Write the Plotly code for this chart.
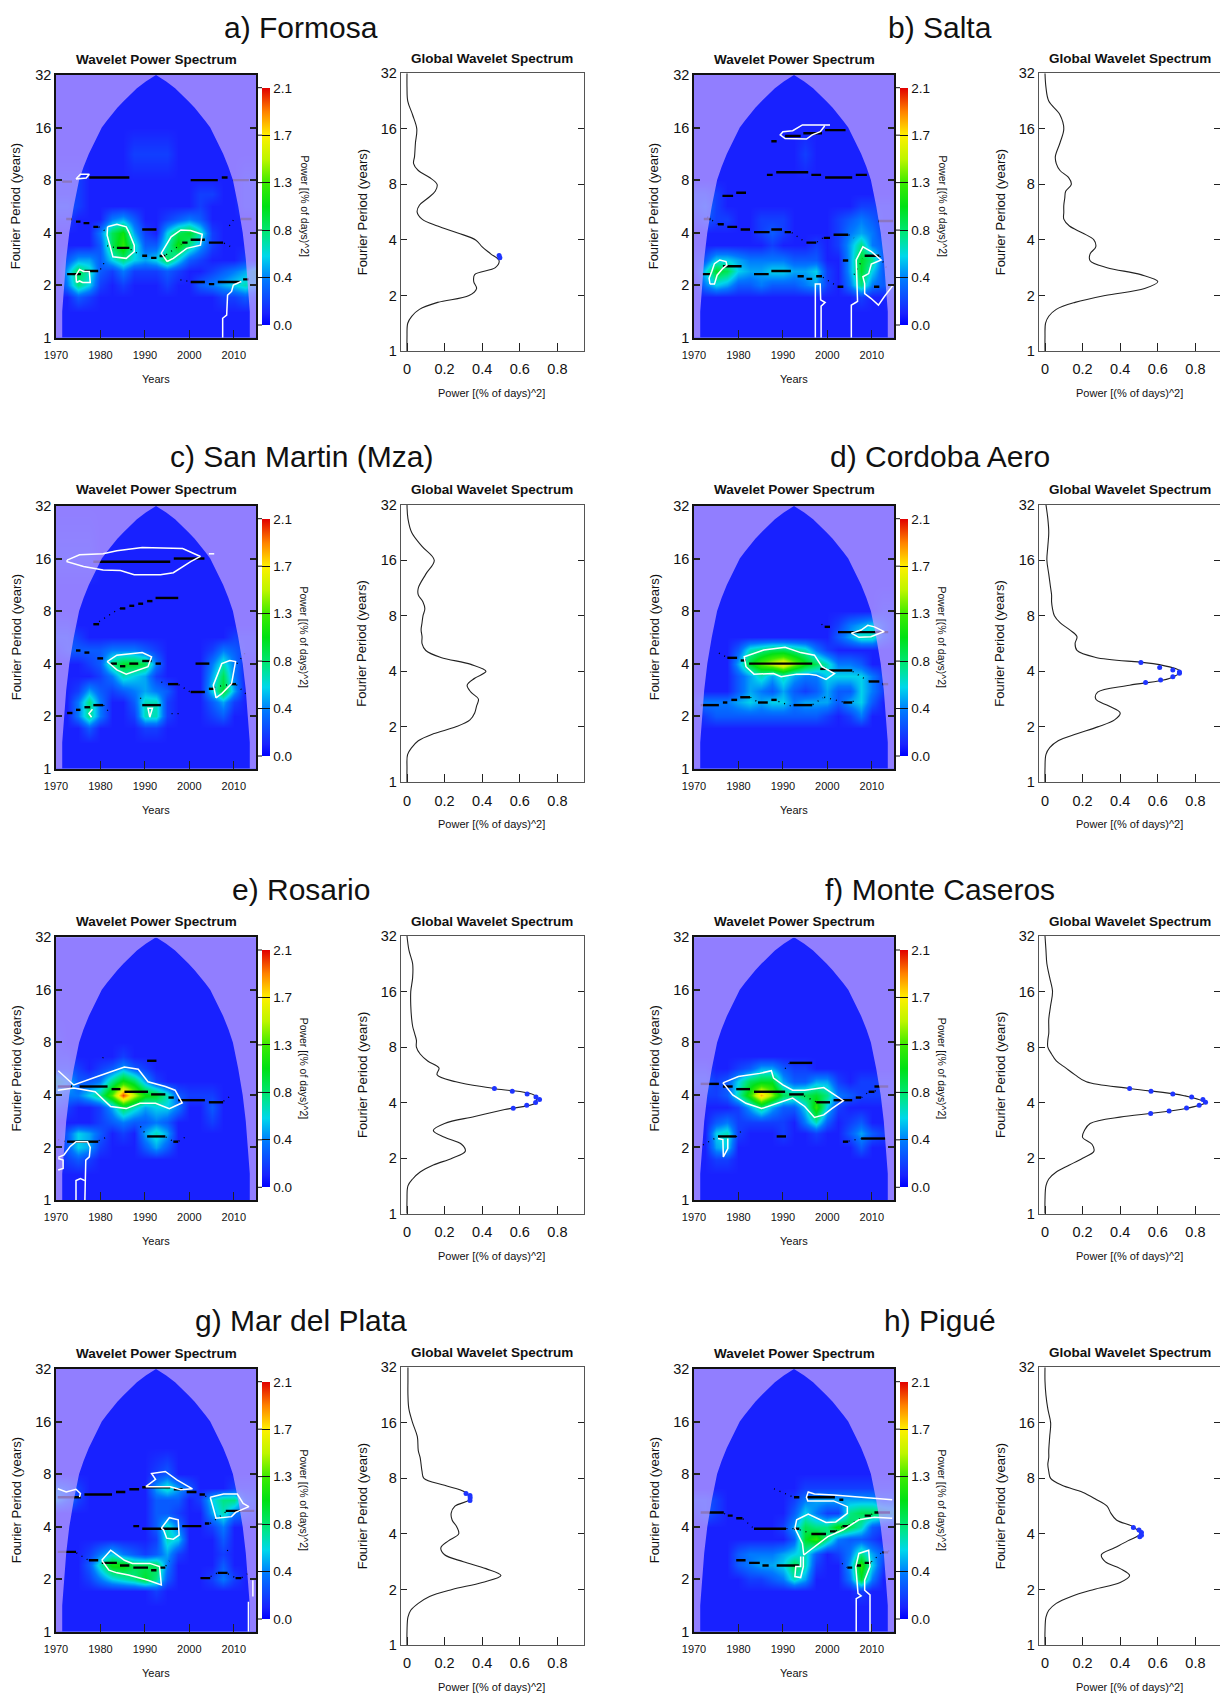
import numpy as np
import plotly.graph_objects as go

W, H = 1220, 1694
FONT = "Liberation Sans, Arial, sans-serif"

YEARS = [1970, 1972.5, 1975, 1977.5, 1980, 1982.5, 1985, 1987.5, 1990, 1992.5, 1995, 1997.5,
         2000, 2002.5, 2005, 2007.5, 2010, 2012.5, 2015]
PERIODS = [32, 16, 11.3, 8, 6.7, 5.7, 4.8, 4, 3.4, 2.8, 2.4, 2, 1.7, 1.4, 1]

# wavelet power, in tenths of (% of days)^2; rows run from period 32 down to 1
POWER_A = [
 [1,1,1,1,1,1,1,1,1,1,1,1,1,1,1,1,1,1,1],
 [1,1,1,1,1,1,1,1,1,1,1,1,1,1,1,1,1,1,1],
 [1,1,1,1,1,1,1,2,2,2,2,1,1,1,1,1,1,1,1],
 [2,2,2,1,1,1,1,1,1,1,1,1,1,1,1,1,1,2,2],
 [2,2,2,1,1,1,1,1,1,1,1,1,1,2,2,1,1,2,2],
 [3,3,2,1,1,1,1,1,1,1,1,1,1,2,1,1,1,2,2],
 [2,2,1,1,1,4,5,3,1,1,2,3,4,3,1,1,1,1,1],
 [1,1,1,1,4,9,11,5,2,1,6,9,10,7,2,1,1,1,1],
 [1,1,1,1,3,9,12,7,3,3,7,11,8,5,2,1,1,1,1],
 [1,3,5,5,3,6,8,6,5,6,9,6,3,2,1,1,1,2,1],
 [1,5,9,7,3,2,4,2,2,2,3,2,1,1,2,3,4,5,8],
 [1,4,8,6,2,1,2,1,1,1,2,1,1,3,4,5,6,7,6],
 [1,1,3,2,1,1,1,1,1,1,1,1,1,1,1,2,2,3,2],
 [1,1,1,1,1,1,1,1,1,1,1,1,1,1,1,1,1,1,1],
 [1,1,1,1,1,1,1,1,1,1,1,1,1,1,1,1,1,1,1]]
POWER_B = [
 [1,1,1,1,1,1,1,1,1,1,1,1,1,1,1,1,1,1,1],
 [1,1,1,1,1,1,1,1,1,1,1,1,1,1,1,1,1,1,1],
 [1,1,1,1,1,1,1,1,1,1,2,1,1,1,1,1,1,1,1],
 [1,1,1,1,1,1,1,1,1,1,1,1,1,1,1,1,1,1,1],
 [3,3,2,1,1,1,1,1,1,1,1,1,1,1,1,1,1,1,1],
 [3,4,2,1,1,1,1,1,1,1,1,1,1,1,1,2,2,2,2],
 [2,3,2,2,1,1,2,2,2,1,1,1,1,2,3,4,3,2,2],
 [1,1,1,1,1,1,2,3,2,1,1,1,1,2,4,5,4,2,2],
 [1,1,1,1,1,1,1,2,1,1,1,2,1,2,5,8,4,3,2],
 [2,3,6,6,5,4,4,4,4,3,3,3,1,1,5,10,8,3,3],
 [2,6,10,9,6,5,5,6,6,5,5,6,2,1,5,10,6,3,3],
 [1,4,6,5,3,3,4,3,3,3,4,5,2,1,4,8,4,3,4],
 [1,1,1,1,1,1,1,1,1,1,1,1,1,1,1,2,1,1,2],
 [1,1,1,1,1,1,1,1,1,1,1,1,1,1,1,1,1,1,1],
 [1,1,1,1,1,1,1,1,1,1,1,1,1,1,1,1,1,1,1]]
POWER_C = [
 [1,1,1,1,1,1,1,1,1,1,1,1,1,1,1,1,1,1,1],
 [2,2,2,2,1,1,1,1,1,1,1,1,1,1,1,1,1,1,1],
 [1,1,1,1,1,1,1,1,1,1,1,1,1,1,1,1,1,1,1],
 [1,1,1,1,1,1,1,1,1,1,1,1,1,1,1,1,1,1,1],
 [2,2,1,1,1,1,1,1,1,1,1,1,1,1,1,1,1,1,1],
 [3,3,2,1,1,1,1,1,1,1,1,1,1,1,1,1,2,2,2],
 [2,3,3,3,3,4,4,4,3,2,1,1,1,1,2,4,3,2,2],
 [1,1,1,2,3,8,10,10,9,4,1,1,1,1,4,7,4,1,1],
 [1,1,1,1,2,4,7,6,5,2,1,1,1,1,5,9,4,1,1],
 [1,1,2,5,3,2,3,4,5,4,3,1,1,1,6,10,5,1,1],
 [1,1,4,8,4,1,1,3,7,7,2,1,1,1,3,5,2,1,1],
 [1,1,4,8,4,1,1,2,7,7,2,1,1,1,2,3,1,1,1],
 [1,1,1,3,1,1,1,1,2,2,1,1,1,1,1,1,1,1,1],
 [1,1,1,1,1,1,1,1,1,1,1,1,1,1,1,1,1,1,1],
 [1,1,1,1,1,1,1,1,1,1,1,1,1,1,1,1,1,1,1]]
POWER_D = [
 [1,1,1,1,1,1,1,1,1,1,1,1,1,1,1,1,1,1,1],
 [1,1,1,1,1,1,1,1,1,1,1,1,1,1,1,1,1,1,1],
 [1,1,1,1,1,1,1,1,1,1,1,1,1,1,1,1,1,1,1],
 [1,1,1,1,1,1,1,1,1,1,1,1,1,1,1,1,1,2,2],
 [1,1,1,1,1,1,1,1,1,1,1,1,1,2,4,5,6,4,2],
 [1,1,1,1,1,1,1,1,1,1,1,1,1,3,5,7,7,4,2],
 [1,1,1,1,3,7,8,9,9,8,7,4,2,1,1,1,1,1,1],
 [1,1,1,1,5,10,13,15,17,14,11,9,7,4,4,3,1,1,1],
 [1,1,1,1,3,5,7,5,7,5,4,4,6,6,6,6,4,2,1],
 [1,1,1,1,3,5,4,3,5,3,2,3,5,3,3,6,4,2,1],
 [2,4,4,4,5,6,5,6,6,4,5,5,5,3,5,6,3,1,1],
 [1,2,3,3,3,3,3,3,3,3,3,3,2,1,2,4,1,1,1],
 [1,1,1,1,1,1,1,1,1,1,1,1,1,1,1,1,1,1,1],
 [1,1,1,1,1,1,1,1,1,1,1,1,1,1,1,1,1,1,1],
 [1,1,1,1,1,1,1,1,1,1,1,1,1,1,1,1,1,1,1]]
POWER_E = [
 [1,1,1,1,1,1,1,1,1,1,1,1,1,1,1,1,1,1,1],
 [1,1,1,1,1,1,1,1,1,1,1,1,1,1,1,1,1,1,1],
 [1,1,1,1,1,1,1,1,1,1,1,1,1,1,1,1,1,1,1],
 [2,1,1,1,1,1,1,1,1,1,1,1,1,1,1,1,1,1,1],
 [2,2,1,1,1,1,2,1,1,1,1,1,1,1,1,1,1,1,1],
 [3,3,2,1,2,3,5,3,2,1,1,1,1,1,1,1,1,1,1],
 [8,6,3,3,4,8,11,9,5,2,1,1,1,1,1,1,1,1,1],
 [5,4,4,6,8,13,20,15,11,10,7,3,2,2,2,1,1,1,1],
 [3,2,1,1,2,5,9,7,5,6,6,4,1,1,3,1,1,1,1],
 [1,1,1,1,2,3,4,3,3,4,3,1,1,1,2,1,1,1,1],
 [1,3,6,5,3,1,2,1,5,7,5,1,1,1,1,1,1,1,1],
 [1,3,6,5,2,1,1,1,3,5,3,1,1,1,1,1,1,1,1],
 [1,2,3,2,1,1,1,1,1,1,1,1,1,1,1,1,1,1,1],
 [1,1,1,1,1,1,1,1,1,1,1,1,1,1,1,1,1,1,1],
 [1,1,1,1,1,1,1,1,1,1,1,1,1,1,1,1,1,1,1]]
POWER_F = [
 [1,1,1,1,1,1,1,1,1,1,1,1,1,1,1,1,1,1,1],
 [1,1,1,1,1,1,1,1,1,1,1,1,1,1,1,1,1,1,1],
 [1,1,1,1,1,1,1,1,1,1,1,1,1,1,1,1,1,1,1],
 [1,1,1,1,1,1,1,1,1,1,1,1,1,1,1,1,1,1,1],
 [1,1,1,1,1,1,1,1,1,1,1,1,1,1,1,1,1,1,1],
 [2,2,1,1,2,3,5,5,3,2,2,1,1,1,1,1,1,1,1],
 [3,3,2,3,6,9,10,10,5,3,3,5,5,2,1,2,2,2,2],
 [2,2,2,3,7,12,18,14,9,8,9,10,8,4,3,2,2,2,2],
 [1,1,1,1,2,5,8,5,3,3,6,12,6,2,1,1,1,1,1],
 [1,1,3,4,2,2,2,2,2,1,4,7,3,1,2,3,1,1,1],
 [1,1,6,7,2,1,1,1,2,1,1,2,1,1,3,5,3,2,1],
 [1,1,5,6,1,1,1,1,1,1,1,1,1,1,1,3,1,1,1],
 [1,1,2,2,1,1,1,1,1,1,1,1,1,1,1,1,1,1,1],
 [1,1,1,1,1,1,1,1,1,1,1,1,1,1,1,1,1,1,1],
 [1,1,1,1,1,1,1,1,1,1,1,1,1,1,1,1,1,1,1]]
POWER_G = [
 [1,1,1,1,1,1,1,1,1,1,1,1,1,1,1,1,1,1,1],
 [1,1,1,1,1,1,1,1,1,1,1,1,1,1,1,1,1,1,1],
 [1,1,1,1,1,1,1,1,1,1,1,1,1,1,1,1,1,1,1],
 [1,1,1,1,1,1,1,1,1,2,3,1,1,1,1,1,1,1,1],
 [5,4,2,1,1,1,1,1,1,5,7,5,3,1,1,1,2,2,2],
 [6,4,2,1,1,1,1,1,1,3,3,3,1,2,6,8,8,4,3],
 [1,1,1,1,1,1,1,1,1,3,3,2,1,1,5,7,4,3,2],
 [1,1,1,1,1,1,1,1,1,3,7,4,1,1,2,4,1,1,1],
 [1,1,1,1,1,1,1,1,1,2,7,6,1,1,1,3,1,1,1],
 [1,1,1,2,4,6,4,3,2,3,5,2,1,1,1,2,1,1,1],
 [1,1,1,3,7,11,11,9,9,9,4,1,1,1,1,3,1,1,1],
 [1,1,1,2,4,6,7,8,10,8,3,1,1,1,2,4,2,1,1],
 [1,1,1,1,1,1,1,1,1,2,1,1,1,1,1,1,1,1,1],
 [1,1,1,1,1,1,1,1,1,1,1,1,1,1,1,1,1,1,1],
 [1,1,1,1,1,1,1,1,1,1,1,1,1,1,1,1,1,1,1]]
POWER_H = [
 [1,1,1,1,1,1,1,1,1,1,1,1,1,1,1,1,1,1,1],
 [1,1,1,1,1,1,1,1,1,1,1,1,1,1,1,1,1,1,1],
 [1,1,1,1,1,1,1,1,1,1,1,1,1,1,1,1,1,1,1],
 [1,1,1,1,1,1,1,1,1,1,1,1,1,1,1,1,1,1,1],
 [1,1,1,1,1,1,1,1,1,1,2,2,2,2,2,2,2,2,2],
 [3,3,2,1,1,1,1,1,1,2,4,5,5,5,5,5,5,4,4],
 [2,3,2,1,1,1,1,1,1,3,6,4,2,2,8,9,9,8,7],
 [1,1,1,1,1,1,1,1,2,5,9,8,8,11,9,7,3,2,2],
 [1,1,1,1,1,1,1,1,1,3,10,12,8,4,3,3,2,1,1],
 [1,1,1,1,3,4,4,4,5,6,7,3,1,2,4,8,5,3,2],
 [1,1,1,1,3,4,5,5,6,9,7,2,1,1,5,12,6,2,1],
 [1,1,1,1,1,2,2,3,4,7,5,1,1,1,4,10,4,1,1],
 [1,1,1,1,1,1,1,1,1,1,1,1,1,1,1,2,1,1,1],
 [1,1,1,1,1,1,1,1,1,1,1,1,1,1,1,1,1,1,1],
 [1,1,1,1,1,1,1,1,1,1,1,1,1,1,1,1,1,1,1]]

# ridges: (start year, end year, log2 of period)
RIDGES_A = [(1972.5,1975.6,1.21),(1976.4,1979.5,1.27),(1977.5,1986.5,3.05),(2000.3,2006.4,3.0),(2007.3,2008.6,3.05),
 (1974.5,1975.5,2.21),(1976.2,1977.5,2.18),(1978.4,1979.5,2.11),(1983.7,1986.5,1.71),(1989.4,1990.5,1.56),
 (1991.4,1992.6,1.52),(1993.3,1994.6,1.555),(1998.4,1999.6,1.81),(2000.3,2003.5,1.865),(2004.4,2007.6,1.81),
 (1989.4,1992.6,2.06),(2000.3,2003.5,1.06),(2004.4,2005.6,1.02),(2006.4,2011.5,1.06),(2012.1,2013.4,1.11),
 (1971.4,1973.6,2.97),(1972.3,1973.6,2.26),(2009.8,2013.4,3.0),(2011.6,2014,2.26)]
RIDGES_B = [(1990.5,1994,3.84),(1994.6,1998.8,3.89),(1999.5,2004.1,3.95),(1987.4,1988.6,3.74),(1986.4,1987.7,3.10),
 (1988.5,1995.7,3.15),(1996.4,1998.6,3.10),(1999.5,2005.6,3.05),(2006.4,2008.9,3.10),(1976.4,1978.8,2.70),
 (1979.5,1981.7,2.76),(1975.4,1976.7,2.16),(1977.5,1979.7,2.11),(1980.5,1982.6,2.06),(1983.5,1987,2.01),
 (1987.4,1989.8,2.06),(1990.4,1991.8,2.01),(1995.3,1997.5,1.81),(1999.2,2000.6,1.90),(2001.4,2004.7,1.96),
 (2003.5,2004.7,1.47),(2008.4,2011.7,1.56),(1971.9,1973.7,1.21),(1976.5,1980.7,1.36),(1983.5,1986.8,1.21),
 (1987.4,1991.8,1.27),(1993.3,1994.7,1.17),(1995.3,1996.6,1.12),(1997.5,1998.8,1.17),(2002.3,2003.6,0.97),
 (2010.5,2011.7,0.97),(1972.2,1973.7,2.26),(2011.5,2014.8,2.22)]
RIDGES_C = [(1972.5,1973.7,1.06),(1974.5,1975.5,1.12),(1976.4,1977.7,1.17),(1978.4,1980.6,1.21),(1978.4,1995.7,3.94),
 (1996.5,2003.4,4.0),(1978.4,1979.7,2.75),(1984.4,1985.6,3.05),(1986.5,1987.6,3.10),(1988.5,1989.6,3.14),
 (1990.5,1991.7,3.19),(1992.4,1997.5,3.25),(1974.5,1975.5,2.25),(1976.4,1977.5,2.21),(1979.3,1980.6,2.10),
 (1982.3,1983.7,2.0),(1984.4,1985.6,1.95),(1986.5,1988.5,2.0),(1989.4,1991.5,2.05),(1992.4,1993.6,2.0),
 (1995.2,1997.5,1.61),(2000.3,2003.5,1.46),(2004.4,2005.6,1.52),(2009.2,2010.5,1.61),(1989.4,1993.6,1.21),
 (2001.4,2004.5,2.0)]
RIDGES_D = [(1977.5,1979.7,2.11),(1980.5,1981.7,2.06),(1982.4,1996.6,2.0),(1998.4,1999.7,1.90),(2000.4,2005.6,1.87),
 (2009.3,2011.7,1.66),(2002.4,2013.7,2.60),(1999.4,2000.6,2.70),(1971.5,1975.6,1.21),(1976.5,1977.5,1.26),
 (1978.4,1979.7,1.31),(1980.4,1982.6,1.36),(1984.4,1986.6,1.26),(1987.4,1988.6,1.31),(1992.4,1996.6,1.21),
 (2003.6,2005.6,1.26),(2012.4,2013.7,1.61)]
RIDGES_E = [(1972.5,1979.5,1.11),(1975.3,1981.6,2.16),(1982.5,1984.5,2.11),(1985.4,1990.7,2.06),(1991.4,1994.6,2.01),
 (1995.3,1996.5,1.95),(1997.5,2003.5,1.90),(2004.4,2007.6,1.86),(1990.5,1992.6,2.65),(1990.5,1994.6,1.21),
 (1996.4,1997.5,1.11),(1970.4,1973.6,2.16)]
RIDGES_F = [(1971.5,1975.6,2.21),(1976.5,1978.7,2.16),(1979.5,1982.6,2.11),(1983.5,1990.5,2.06),(1991.4,1994.7,2.01),
 (1997.5,2000.6,1.86),(2001.4,2005.6,1.90),(2006.4,2007.6,1.95),(2009.3,2010.6,2.06),(1991.5,1996.6,2.61),
 (1975.4,1979.5,1.21),(1988.6,1990.7,1.21),(2003.5,2004.7,1.11),(2007.6,2013.1,1.17),(2010.6,2013.7,2.16)]
RIDGES_G = [(1970.4,1975.6,2.56),(1976.4,1982.6,2.61),(1983.5,1985.6,2.66),(1986.5,1988.7,2.71),(1989.4,1995.7,2.75),
 (1996.5,1998.5,2.71),(1999.4,2001.6,2.66),(2002.3,2003.5,2.61),(1970.4,1974.5,1.52),(1977.4,1979.5,1.36),
 (1980.3,1983.7,1.31),(1984.4,1986.5,1.26),(1987.4,1990.7,1.22),(1991.4,1992.6,1.17),(1993.3,1994.6,1.22),
 (1987.4,1988.7,2.01),(1989.4,1997.5,1.96),(1998.4,2002.7,2.01),(2003.5,2004.5,2.06),(2002.5,2004.7,1.02),
 (2006.4,2008.6,1.12),(2010.4,2011.7,1.02),(2008.2,2014.6,2.30)]
RIDGES_H = [(1971.5,1976.7,2.27),(1977.6,1978.7,2.21),(1979.5,1980.9,2.16),(1983.5,1990.7,1.96),(1992.5,1993.7,1.96),
 (1996.4,1999.7,1.86),(2000.6,2001.9,1.91),(2003.4,2004.7,2.01),(2008.4,2009.8,2.21),(2010.6,2014.1,2.27),
 (1979.5,1981.6,1.36),(1982.4,1984.8,1.31),(1985.4,1986.8,1.26),(1988.6,1993.6,1.26),(1992.5,1993.7,2.56),
 (1995.3,2001.7,2.56),(2002.7,2003.6,2.51),(2004.5,2005.6,1.22),(2006.4,2007.6,1.26),(2008.4,2009.8,1.31),
 (2012.4,2013.7,1.51)]

# dotted ridge links: (year, log2 of period, year, log2 of period)
LINKS_A = [(1979.6,2.11,1981.6,2.0),(1981.5,1.75,1983.5,1.71),(1986.8,1.68,1989,1.57),(1994.8,1.58,1998.2,1.78),
 (2007.8,1.8,2010,1.7),(2009,2.13,2010,2.25),(1980,1.3,1981,1.45),(1998,1.1,2000,1.07)]
LINKS_B = [(1973,2.3,1975.3,2.16),(1992,2,1995,1.82),(1997.7,1.82,1999,1.9),(2004.8,1.96,2006,1.9),(2006,1.2,2008,1.5),
 (2011.8,1.55,2013.5,1.3),(1999,1.15,2002.2,0.98)]
LINKS_C = [(1979.7,2.8,1984.3,3.05),(2005.6,1.55,2010,1.62),(2010.6,1.6,2013,1.4),(1993.7,1.65,1995,1.61),
 (1997.6,1.6,2000.2,1.46),(1989,1.35,1989.4,1.25),(1996,1.05,1998,1.05),(2010.7,2.0,2013,2.25),(1980.7,1.21,1982,1.07)]
LINKS_D = [(1975.6,2.2,1977.4,2.12),(2005.7,1.85,2009.2,1.67),(1982.7,1.36,1984.3,1.27),(1989,1.28,1992.3,1.18),
 (1996.7,1.22,1999,1.35),(1999.3,1.36,2003.5,1.27),(2005.7,1.28,2007,1.28),(1998.7,2.75,1999.4,2.7)]
LINKS_E = [(1970.5,1.15,1972.4,1.11),(1979.6,1.13,1981.5,1.2),(1989,1.4,1990.4,1.22),(1994.7,1.2,1996.3,1.12),
 (1997.6,1.12,1999.5,1.22),(2007.7,1.88,2009.5,2.0),(1980.5,2.7,1981,2.75)]
LINKS_F = [(1972,1.05,1975.3,1.2),(1979.5,1.2,1981,1.35),(1990.5,2.5,1991.4,2.6),(1994.8,1.98,1997.4,1.87),
 (2004.8,1.12,2007.5,1.17),(2007.7,1.95,2009.2,2.05),(2010.7,2.07,2012.5,2.2)]
LINKS_G = [(1974.6,1.5,1977.3,1.36),(2003.6,2.58,2004.5,2.55),(2004.8,1.05,2006.3,1.12),(2008.7,1.1,2010.3,1.03),
 (2011.8,1.03,2014,1.15),(2008.5,1.55,2009.5,1.5),(2004.7,2.06,2008.2,2.28),(1994.7,1.25,1995.5,1.35)]
LINKS_H = [(1976.8,2.25,1977.5,2.22),(1981,2.15,1983.4,1.97),(1990.8,1.96,1992.4,1.96),(1993.8,1.94,1996.3,1.87),
 (2002,1.92,2003.3,2),(2004.8,2.03,2008.3,2.2),(2009.9,2.23,2010.5,2.27),(1988,2.72,1992.4,2.56),(1993.8,1.26,1995,1.3),
 (2003.3,1.3,2004.4,1.22),(2009.9,1.33,2012.3,1.51),(2012.4,1.51,2014.5,1.55)]

# white significance contours: (year, log2 of period)
CONTOURS_A = [
 [(1974.5,3.02),(1975.5,3.11),(1977.5,3.11),(1976.8,3.04),(1974.5,3.02)],
 [(1981.6,2.11),(1983.7,2.16),(1985.8,2.11),(1986.5,1.99),(1987.6,1.76),(1987.6,1.64),(1985.8,1.51),(1982.8,1.54),(1982.2,1.73),(1981.5,1.95),(1981.6,2.11)],
 [(1995,1.45),(1993.7,1.61),(1995.9,1.92),(1998.1,2.05),(2000.3,2.04),(2002.9,1.97),(2002.5,1.76),(1999.4,1.70),(1996.4,1.51),(1995,1.45)],
 [(1974.6,1.05),(1974.5,1.19),(1975.3,1.30),(1976.2,1.26),(1977.5,1.26),(1977.7,1.05),(1976,1.05),(1975.3,1.08),(1974.6,1.05)],
 [(2007.5,0),(2007.5,0.37),(2008.4,0.43),(2008.6,0.81),(2009.5,0.88),(2009.9,1.0),(2011.7,1.07)]]
CONTOURS_B = [
 [(2000.6,4.05),(1994.4,4.05),(1992.2,3.94),(1990,3.92),(1989.4,3.86),(1990.5,3.79),(1995.3,3.78),(1996.6,3.86),(1998.4,3.92),(1999.4,4.03)],
 [(1973.6,1.02),(1974.6,1.02),(1975.2,1.19),(1976.5,1.32),(1977.4,1.38),(1977.2,1.45),(1975.8,1.48),(1974.6,1.41),(1974,1.26),(1973.4,1.13),(1973.6,1.02)],
 [(1997.3,0),(1997.3,1.02),(1998.4,1.02),(1998.5,0.72),(1999.5,0.67),(1998.6,0.6),(1998.6,0)],
 [(2005.4,0),(2005.4,0.62),(2006.4,0.67),(2006.8,0.69),(2006.5,1.48),(2008,1.73),(2009.9,1.64),(2012.1,1.48),(2009.9,1.40),(2009.3,1.22),(2008,1.16),(2008.4,1.03),(2008.4,0.84),(2009.8,0.75),(2011.5,0.62),(2012.8,0.78),(2014.8,1.0)]]
CONTOURS_C = [
 [(1972.5,3.97),(1975.3,4.07),(1980.6,4.09),(1983.7,4.15),(1989.4,4.21),(1998.5,4.19),(2002.5,4.04),(2000.3,3.94),(1996.4,3.73),(1993.5,3.69),(1987.6,3.69),(1984.5,3.77),(1980.6,3.78),(1976.2,3.85),(1972.5,3.94),(1972.5,3.97)],
 [(2004.4,4.09),(2005.6,4.09)],
 [(1981.5,2.04),(1983.7,2.16),(1989.4,2.21),(1991.5,2.13),(1990.7,1.94),(1988,1.87),(1985.8,1.80),(1983.7,1.88),(1981.5,2.04)],
 [(2006,1.35),(2005.4,1.59),(2007.3,2.0),(2009.1,2.06),(2010.4,2.04),(2009.5,1.62),(2007.3,1.43),(2006,1.35)],
 [(1978,0.98),(1977.4,1.05),(1978.2,1.13)],
 [(1991.1,0.98),(1990.7,1.15),(1991.7,1.15),(1991.1,0.98)]]
CONTOURS_D = [
 [(1981.7,1.94),(1981.3,2.13),(1985.7,2.26),(1990.5,2.31),(1994,2.21),(1997.1,2.16),(1998.8,1.94),(2001.6,1.81),(1999.7,1.70),(1997.5,1.78),(1995.7,1.80),(1993.1,1.80),(1989.6,1.75),(1987.9,1.81),(1983.5,1.80),(1981.7,1.94)],
 [(2005.4,2.58),(2007.6,2.64),(2009.1,2.73),(2010.6,2.70),(2012.8,2.61),(2009.8,2.51),(2007.1,2.50),(2005.4,2.58)]]
CONTOURS_E = [
 [(1970.5,2.46),(1974,2.19),(1979.3,2.35),(1985.4,2.53),(1988.5,2.49),(1990.7,2.25),(1994.6,2.16),(1996.8,2.09),(1998.4,1.85),(1995.5,1.74),(1992.4,1.84),(1988.9,1.84),(1985.8,1.74),(1982.3,1.78),(1978.8,2.06),(1974,2.13),(1970.4,2.09)],
 [(1970.5,0.81),(1971.8,0.86),(1973.2,1.02),(1974.5,1.11),(1977.1,1.11),(1977.7,1.0),(1977.5,0.82),(1976.7,0.76),(1976.5,0)],
 [(1970.5,0.79),(1971.6,0.76),(1971.6,0.60),(1970.5,0.57)],
 [(1974.5,0),(1974.5,0.37),(1975.5,0.41),(1976.5,0.37)]]
CONTOURS_F = [
 [(1976.5,2.23),(1980,2.35),(1984.8,2.41),(1987.4,2.46),(1987.9,2.32),(1990,2.19),(1992.2,2.09),(1994.9,2.09),(1999.2,2.14),(2003.6,1.89),(2001,1.74),(1999.2,1.62),(1997.1,1.57),(1994.9,1.78),(1992.2,1.94),(1989.6,1.87),(1985.2,1.74),(1981.7,1.84),(1978.7,2.0),(1976.5,2.23)],
 [(1975.4,1.17),(1976.5,1.15),(1976.6,0.82),(1977.6,0.98),(1977.6,1.17)]]
CONTOURS_G = [
 [(1990.2,2.76),(1992.4,2.90),(1991.5,3.01),(1994.6,3.05),(1997.2,2.89),(2000.7,2.72),(1998.1,2.70),(1995.7,2.76),(1992.4,2.76),(1990.2,2.76)],
 [(1970.4,2.72),(1972.3,2.66),(1974.5,2.71),(1975.5,2.63),(1975.3,2.56)],
 [(2004.7,2.56),(2007.7,2.62),(2010.8,2.62),(2012.1,2.44),(2013.4,2.38),(2010.4,2.27),(2009.5,2.19),(2006,2.16),(2005.4,2.35),(2004.7,2.56)],
 [(1993.7,1.97),(1995.5,2.17),(1997.5,2.13),(1997.7,1.84),(1996.4,1.76),(1994.9,1.78),(1994.2,1.94),(1993.7,1.97)],
 [(1980.3,1.36),(1982.3,1.55),(1985.4,1.36),(1987.2,1.30),(1991.1,1.30),(1993.3,1.24),(1993.7,0.89),(1990.7,0.98),(1986.3,1.08),(1983.7,1.12),(1981.9,1.17),(1980.3,1.36)],
 [(2013.3,0.57),(2013.3,0)],
 [(2014.3,0.98),(2014.3,0.67)]]
CONTOURS_H = [
 [(2014.6,2.51),(2010.6,2.54),(2003.6,2.59),(2001.4,2.60),(1997.1,2.62),(1995.7,2.66),(1995.3,2.56),(1995.6,2.49),(2001.4,2.49),(2004.5,2.38),(2004.5,2.25),(2001.9,2.09),(1999.7,2.08),(1997.1,2.19),(1995.7,2.24),(1993.1,2.13),(1992.7,1.97),(1994.4,1.68),(1994.7,1.46),(2000.1,1.81),(2003.6,1.94),(2007.1,2.13),(2010.6,2.18),(2014.6,2.16)],
 [(1994,1.43),(1994,1.24),(1992.9,1.24),(1992.7,1.05),(1994,1.03),(1994.6,1.24),(1994.6,1.43)],
 [(2006.5,0),(2006.5,0.63),(2007.6,0.68),(2006.9,0.73),(2006.4,1.24),(2007.1,1.49),(2009.3,1.55),(2009.6,1.24),(2008.4,0.98),(2008.4,0.79),(2009.6,0.70),(2009.6,0)]]

# cone of influence boundary
COI_LOG2 = [0, 0.5, 1, 1.5, 2, 2.5, 3, 3.25, 3.5, 3.75, 4, 4.125, 4.25, 4.375, 4.5, 4.625, 4.75, 4.875, 5]
COI_LEFT = [1971.4, 1971.4, 1971.8, 1972.3, 1973, 1974, 1975.2, 1976.2, 1977.4, 1978.8, 1980.3, 1981.4, 1982.5, 1983.8, 1985.2, 1986.7, 1988.2, 1990.2, 1992.5]
COI_RIGHT = [2013.6, 2013.6, 2013.2, 2012.7, 2012, 2011, 2009.8, 2008.8, 2007.6, 2006.2, 2004.7, 2003.6, 2002.5, 2001.2, 1999.8, 1998.3, 1996.8, 1994.8, 1992.5]

# global wavelet spectrum
GWS_LOG2 = [0,.25,.5,.625,.75,.875,1,1.125,1.25,1.375,1.5,1.625,1.75,1.875,2,2.125,2.25,2.375,2.5,2.625,2.75,2.875,3,3.125,3.25,3.375,3.5,3.75,4,4.25,4.5,4.75,5]
GWS_A = [0,0,.004,.025,.066,.163,.33,.37,.355,.36,.47,.49,.445,.4,.365,.27,.163,.08,.054,.066,.11,.15,.16,.12,.06,.035,.04,.045,.052,.03,.004,0,0]
GWS_B = [0,0,.003,.02,.06,.16,.32,.53,.6,.51,.33,.24,.24,.27,.26,.2,.13,.1,.1,.1,.105,.11,.14,.125,.08,.06,.055,.08,.1,.08,.02,.005,0]
GWS_C = [0,0,.003,.025,.06,.14,.26,.335,.36,.37,.38,.34,.32,.36,.42,.34,.18,.1,.08,.08,.075,.08,.085,.095,.085,.06,.06,.1,.145,.08,.025,.005,0]
GWS_D = [0,0,.005,.025,.07,.17,.28,.37,.4,.34,.27,.28,.45,.665,.72,.6,.27,.17,.16,.17,.13,.08,.05,.04,.035,.035,.03,.02,.01,.015,.02,.015,.005]
GWS_E = [0,0,.005,.03,.07,.14,.24,.31,.29,.2,.14,.2,.36,.52,.685,.68,.47,.26,.16,.17,.11,.07,.05,.05,.04,.03,.025,.02,.02,.03,.03,.01,0]
GWS_F = [0,0,.005,.02,.06,.13,.2,.26,.25,.2,.21,.24,.42,.72,.85,.74,.46,.22,.16,.11,.06,.035,.015,.015,.02,.02,.02,.03,.04,.025,.01,.005,0]
GWS_G = [0,0,.005,.02,.06,.12,.24,.4,.5,.42,.3,.2,.18,.22,.275,.265,.24,.235,.255,.335,.31,.2,.09,.08,.075,.07,.06,.055,.03,.01,.005,.005,.005]
GWS_H = [0,0,.005,.02,.06,.14,.26,.4,.45,.4,.32,.3,.37,.44,.505,.47,.38,.35,.33,.27,.2,.09,.03,.02,.015,.02,.02,.025,.03,.015,.005,0,0]

# significant points on the global spectrum: (power, log2 of period)
SIG_A = [(.49,1.72),(.494,1.68)]
SIG_B = []
SIG_C = []
SIG_D = [(.51,2.157),(.61,2.07),(.68,2.025),(.715,1.99),(.715,1.965),(.68,1.90),(.615,1.845),(.535,1.80)]
SIG_E = [(.465,2.254),(.56,2.206),(.639,2.157),(.686,2.103),(.705,2.055),(.684,2.0),(.637,1.953),(.565,1.9)]
SIG_F = [(.45,2.254),(.564,2.206),(.68,2.157),(.78,2.103),(.84,2.055),(.854,2.007),(.82,1.953),(.753,1.905),(.66,1.851),(.562,1.803)]
SIG_G = [(.314,2.73),(.335,2.69),(.336,2.65),(.335,2.6)]
SIG_H = [(.47,2.115),(.5,2.07),(.513,2.025),(.513,1.977),(.504,1.95)]

TITLES = ["a) Formosa", "b) Salta", "c) San Martin (Mza)", "d) Cordoba Aero",
          "e) Rosario", "f) Monte Caseros", "g) Mar del Plata", "h) Pigué"]
POWERS = [POWER_A, POWER_B, POWER_C, POWER_D, POWER_E, POWER_F, POWER_G, POWER_H]
RIDGES = [RIDGES_A, RIDGES_B, RIDGES_C, RIDGES_D, RIDGES_E, RIDGES_F, RIDGES_G, RIDGES_H]
LINKS = [LINKS_A, LINKS_B, LINKS_C, LINKS_D, LINKS_E, LINKS_F, LINKS_G, LINKS_H]
CONTOURS = [CONTOURS_A, CONTOURS_B, CONTOURS_C, CONTOURS_D, CONTOURS_E, CONTOURS_F, CONTOURS_G, CONTOURS_H]
GWS = [GWS_A, GWS_B, GWS_C, GWS_D, GWS_E, GWS_F, GWS_G, GWS_H]
SIGS = [SIG_A, SIG_B, SIG_C, SIG_D, SIG_E, SIG_F, SIG_G, SIG_H]

YEAR_TICKS = [1970, 1980, 1990, 2000, 2010]
PERIOD_TICKS = [1, 2, 4, 8, 16, 32]
POWER_TICKS = [0, 0.2, 0.4, 0.6, 0.8]
CB_TICKVALS = [0, 0.42, 0.84, 1.26, 1.68, 2.1]
CB_TICKTEXT = ["0.0", "0.4", "0.8", "1.3", "1.7", "2.1"]

COLORS = [[0, "rgb(0,0,255)"], [0.05, "rgb(25,35,255)"], [0.19, "rgb(0,120,255)"], [0.29, "rgb(0,215,235)"],
          [0.38, "rgb(0,230,130)"], [0.5, "rgb(0,225,20)"], [0.6, "rgb(60,235,0)"], [0.7, "rgb(190,245,0)"],
          [0.8, "rgb(255,240,0)"], [0.9, "rgb(255,130,0)"], [1, "rgb(225,0,0)"]]
VEIL = "rgba(185,157,255,0.75)"

# page layout, in pixels
HEAT_TOP = [75, 506, 937.3, 1369]
GLOB_TOP = [73.3, 504.7, 936, 1367.3]
TITLE_Y = [27, 457, 889, 1320]
COL_DX = [0, 638]


def xd(a, b):
    return [a / W, min(b / W, 1)]


def yd(top, bottom):
    return [1 - bottom / H, 1 - top / H]


def txt(s, px, py, size, angle=0, bold=False):
    return dict(text=("<b>%s</b>" % s) if bold else s, x=px / W, y=1 - py / H, xref="paper", yref="paper",
                showarrow=False, textangle=angle, xanchor="center", yanchor="middle",
                font=dict(family=FONT, size=size, color="#111"))


fig = go.Figure()
annots = []
shapes = []
layout = {}
log2_rows = np.log2(PERIODS).tolist()

for k in range(8):
    row, col = k // 2, k % 2
    dx = COL_DX[col]
    ht = HEAT_TOP[row]
    hb = ht + 262.7
    gt = GLOB_TOP[row]
    gb = gt + 277.7
    ax_h = 2 * k + 1
    ax_g = 2 * k + 2
    xh, yh = "x%d" % ax_h, "y%d" % ax_h
    xg, yg = "x%d" % ax_g, "y%d" % ax_g
    cb_top = ht + 12.7
    cb_len = 237.3

    z = (np.array(POWERS[k], dtype=float) / 10).tolist()
    fig.add_trace(go.Heatmap(
        x=YEARS, y=log2_rows, z=z, xaxis=xh, yaxis=yh, zmin=0, zmax=2.1, zsmooth="best",
        colorscale=COLORS, hoverinfo="skip",
        colorbar=dict(x=(262 + dx) / W, xanchor="left", xpad=0, ypad=0, thickness=7.6, thicknessmode="pixels",
                      len=cb_len / H, lenmode="fraction", y=1 - (cb_top + cb_len / 2) / H,
                      yanchor="middle", outlinewidth=0, tickmode="array", tickvals=CB_TICKVALS,
                      ticktext=CB_TICKTEXT, ticks="inside", ticklen=8, tickcolor="#111", tickwidth=1,
                      tickfont=dict(family=FONT, size=13.5, color="#111"))))
    for v in CB_TICKVALS:
        py = cb_top + cb_len * (1 - v / 2.1)
        shapes.append(dict(type="line", xref="paper", yref="paper", x0=(257 + dx) / W, x1=(262 + dx) / W,
                           y0=1 - py / H, y1=1 - py / H, line=dict(color="#111", width=1)))

    rx, ry = [], []
    for a, b, l in RIDGES[k]:
        rx += [a, b, None]
        ry += [l, l, None]
    fig.add_trace(go.Scatter(x=rx, y=ry, xaxis=xh, yaxis=yh, mode="lines", hoverinfo="skip", showlegend=False,
                             line=dict(color="black", width=2.4)))
    lx, ly = [], []
    for a, la, b, lb in LINKS[k]:
        lx += [a, b, None]
        ly += [la, lb, None]
    fig.add_trace(go.Scatter(x=lx, y=ly, xaxis=xh, yaxis=yh, mode="lines", hoverinfo="skip", showlegend=False,
                             line=dict(color="black", width=1.3, dash="1px,5px")))

    left_x = [1970] + COI_LEFT + [1970]
    left_y = [0] + COI_LOG2 + [5]
    right_x = [2015] + COI_RIGHT + [2015]
    for px in (left_x, right_x):
        fig.add_trace(go.Scatter(x=px, y=left_y, xaxis=xh, yaxis=yh, mode="lines", fill="toself", fillcolor=VEIL,
                                 line=dict(width=0), hoverinfo="skip", showlegend=False))

    cx, cy = [], []
    for poly in CONTOURS[k]:
        cx += [p[0] for p in poly] + [None]
        cy += [p[1] for p in poly] + [None]
    fig.add_trace(go.Scatter(x=cx, y=cy, xaxis=xh, yaxis=yh, mode="lines", hoverinfo="skip", showlegend=False,
                             line=dict(color="white", width=1.5)))

    fig.add_trace(go.Scatter(x=GWS[k], y=GWS_LOG2, xaxis=xg, yaxis=yg, mode="lines", hoverinfo="skip",
                             showlegend=False, line=dict(color="#222", width=1.1, shape="spline", smoothing=1)))
    if SIGS[k]:
        fig.add_trace(go.Scatter(x=[p[0] for p in SIGS[k]], y=[p[1] for p in SIGS[k]], xaxis=xg, yaxis=yg,
                                 mode="markers", hoverinfo="skip", showlegend=False,
                                 marker=dict(color="#1f35ff", size=5)))

    common = dict(showgrid=False, zeroline=False, ticks="inside", tickcolor="#222")
    layout["xaxis%d" % ax_h] = dict(common, domain=xd(56 + dx, 256 + dx), range=[1970, 2015], anchor=yh,
                                    tickvals=YEAR_TICKS, ticklen=8, showline=True, linecolor="#111", linewidth=1.5,
                                    mirror=True, ticklabelstandoff=6,
                                    tickfont=dict(family=FONT, size=11, color="#111"))
    layout["yaxis%d" % ax_h] = dict(common, domain=yd(ht, hb), range=[0, 5], anchor=xh,
                                    tickvals=np.log2(PERIOD_TICKS).tolist(), ticktext=[str(p) for p in PERIOD_TICKS],
                                    ticklen=6, tickwidth=1.5, showline=True, linecolor="#111", linewidth=1.5,
                                    mirror="ticks", tickfont=dict(family=FONT, size=14.5, color="#111"))
    gx0 = 400.8 + dx
    gx1 = 583.7 + dx
    per_px = 0.2 / 37.6
    r0 = -6.2 * per_px
    r1 = (min(gx1, W) - gx0 - 6.2) * per_px
    layout["xaxis%d" % ax_g] = dict(common, domain=xd(gx0, gx1), range=[r0, r1], anchor=yg, tickvals=POWER_TICKS,
                                    ticktext=["0", "0.2", "0.4", "0.6", "0.8"], ticklen=8, showline=True,
                                    linecolor="#555", linewidth=1, mirror=True, ticklabelstandoff=5,
                                    tickfont=dict(family=FONT, size=14.5, color="#111"))
    layout["yaxis%d" % ax_g] = dict(common, domain=yd(gt, gb), range=[0, 5], anchor=xg,
                                    tickvals=np.log2(PERIOD_TICKS).tolist(), ticktext=[str(p) for p in PERIOD_TICKS],
                                    ticklen=6, showline=True, linecolor="#555", linewidth=1, mirror="ticks",
                                    tickfont=dict(family=FONT, size=14.5, color="#111"))

    annots.append(txt(TITLES[k], (301 if col == 0 else 939.6), TITLE_Y[row], 30))
    annots.append(txt("Wavelet Power Spectrum", 156 + dx, ht - 16, 13.5, bold=True))
    annots.append(txt("Global Wavelet Spectrum", 491.5 + dx, gt - 15, 13.5, bold=True))
    annots.append(txt("Fourier Period (years)", 16.3 + dx, ht + 131, 13, angle=-90))
    annots.append(txt("Fourier Period (years)", 362 + dx, gt + 139, 13, angle=-90))
    annots.append(txt("Power [(% of days)^2]", 303.5 + dx, ht + 131, 10.4, angle=90))
    annots.append(txt("Years", 156 + dx, ht + 304, 11))
    annots.append(txt("Power [(% of days)^2]", 491.5 + dx, gt + 319.5, 11))

fig.update_layout(width=W, height=H, margin=dict(l=0, r=0, t=0, b=0, autoexpand=False), paper_bgcolor="white",
                  plot_bgcolor="white", showlegend=False, annotations=annots, shapes=shapes, **layout)
fig.write_html("out.html", post_script="document.body.style.margin='0';document.documentElement.style.overflow='hidden';",
               config={"displayModeBar": False})
